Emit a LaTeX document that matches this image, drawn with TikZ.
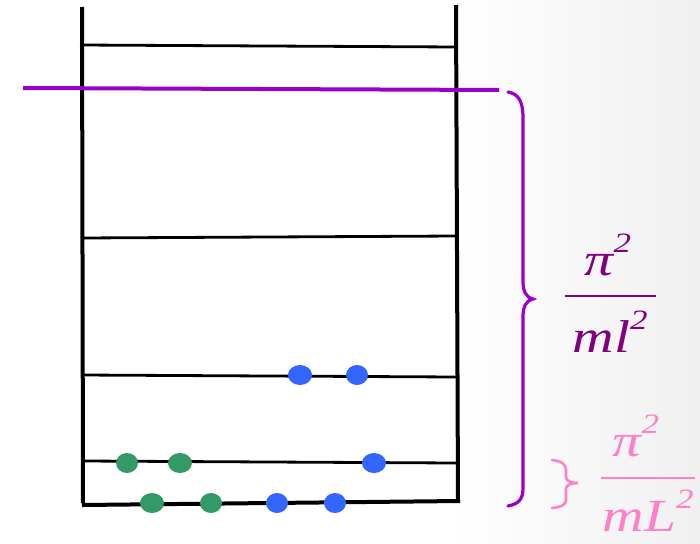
\documentclass[tikz,border=0pt]{standalone}
\usepackage{fontspec,graphicx}
\setmainfont{Liberation Serif}
\definecolor{cutpurple}{HTML}{9900CC}
\definecolor{fracpurple}{HTML}{800080}
\definecolor{softpink}{HTML}{FF80C8}
\definecolor{dotgreen}{HTML}{339966}
\definecolor{dotblue}{HTML}{3366FF}
\newcommand{\wide}[1]{\scalebox{1.25}[1]{#1}}
\newcommand{\sqtwo}{\raisebox{0.5em}{\fontsize{28}{28}\selectfont 2}}

\begin{document}
\begin{tikzpicture}[x=1pt,y=-1pt,
  wall/.style={line width=4pt},
  rung/.style={line width=2.8pt},
  greendot/.style={fill=dotgreen},
  bluedot/.style={fill=dotblue},
  fracpart/.style={anchor=base,inner sep=0pt,font=\fontsize{46}{50}\selectfont\itshape}]
\useasboundingbox (0,0) rectangle (700,543);
\fill[white] (0,0) rectangle (450,543);
\shade[left color=white,right color=black!6] (450,0) rectangle (700,543);
% well walls and floor
\draw[wall] (82,7) -- (83,503);
\draw[wall] (456,5) -- (458,501);
\draw[wall] (82,505) -- (460,501);
% levels
\draw[rung] (80,45) -- (456,47);
\draw[rung] (82,238) -- (456,236);
\draw[rung] (82,375) -- (456,377);
\draw[rung] (84,461) -- (456,463);
% cut-off line
\draw[line width=4pt,cutpurple] (23,88) -- (499,90);
% particles
\fill[bluedot] (300,375) ellipse [x radius=12,y radius=10];
\fill[bluedot] (357,375) ellipse [x radius=11,y radius=10];
\fill[greendot] (127,463) ellipse [x radius=11,y radius=10];
\fill[greendot] (180,463) ellipse [x radius=12,y radius=10];
\fill[bluedot] (374,463) ellipse [x radius=12,y radius=10];
\fill[greendot] (152,503) ellipse [x radius=12,y radius=10];
\fill[greendot] (211,503) ellipse [x radius=11,y radius=10];
\fill[bluedot] (277,503) ellipse [x radius=11,y radius=10];
\fill[bluedot] (335,503) ellipse [x radius=11,y radius=10];
% braces
\draw[line width=3.2pt,cutpurple,line cap=round] (508,92) .. controls (519,94) and (523,102) .. (523,118)
  -- (523,282) .. controls (523,292) and (527,298) .. (533,299)
  .. controls (527,300) and (523,306) .. (523,316)
  -- (523,488) .. controls (523,500) and (518,504) .. (508,506);
\draw[line width=2.6pt,softpink,line cap=round] (552,460) .. controls (561,461) and (566,464) .. (566,470)
  -- (566,477) .. controls (566,481) and (571,483) .. (578,483)
  .. controls (571,483) and (566,485) .. (566,489)
  -- (566,500) .. controls (566,505) and (561,507) .. (552,508);
% labels
\node[fracpart,text=fracpurple] (bignum) at (608,275) {\wide{π\sqtwo}};
\draw[line width=2pt,fracpurple] (565,296) -- (656,296);
\node[fracpart,text=fracpurple] (bigden) at (610,352) {\wide{ml\sqtwo}};
\node[fracpart,text=softpink] (smallnum) at (636,456) {\wide{π\sqtwo}};
\draw[line width=2pt,softpink] (601,478) -- (695,478);
\node[fracpart,text=softpink] (smallden) at (648,531) {\wide{mL\sqtwo}};
\end{tikzpicture}
\end{document}
